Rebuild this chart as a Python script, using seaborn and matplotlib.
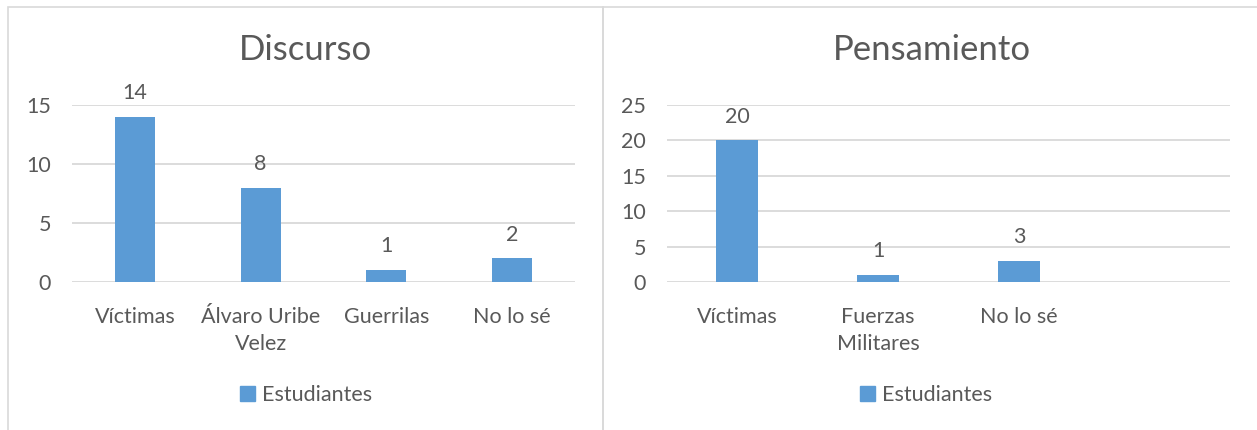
import matplotlib
matplotlib.use("Agg")
import matplotlib.pyplot as plt
from matplotlib.patches import Rectangle, Patch
import pandas as pd
import seaborn as sns

# data
discurso_cats = ["Víctimas", "Álvaro Uribe\nVelez", "Guerrilas", "No lo sé"]
discurso_vals = [14, 8, 1, 2]
pensamiento_cats = ["Víctimas", "Fuerzas\nMilitares", "No lo sé"]
pensamiento_vals = [20, 1, 3]
series_name = "Estudiantes"

bar_color = "#5B9BD5"
text_color = "#595959"
grid_color = "#D9D9D9"

sns.set_theme(style="white")
plt.rcParams["font.family"] = ["Lato", "DejaVu Sans"]

W, H = 1257, 430
fig = plt.figure(figsize=(W / 100, H / 100), dpi=100)

# chart borders
for x0, x1 in [(8, 603), (603, 1262)]:
    fig.patches.append(Rectangle((x0 / W, -0.05), (x1 - x0) / W, (H - 7) / H + 0.05,
                                 transform=fig.transFigure, fill=False,
                                 edgecolor=grid_color, linewidth=1.2))


def draw(ax, cats, vals, title, title_x, ymax, step, ncat, width, leg_x):
    df = pd.DataFrame({"cat": cats, "val": vals})
    sns.barplot(data=df, x="cat", y="val", ax=ax, color=bar_color,
                width=width, saturation=1, linewidth=0)
    ax.set_xlim(-0.5, ncat - 0.5)
    ax.set_ylim(0, ymax)
    ax.set_yticks(range(0, ymax + 1, step))
    ax.yaxis.grid(True, color=grid_color, linewidth=1.3)
    ax.set_axisbelow(True)
    for s in ax.spines.values():
        s.set_visible(False)
    ax.set_xlabel("")
    ax.set_ylabel("")
    ax.tick_params(axis="both", length=0, labelsize=15.5, colors=text_color)
    ax.tick_params(axis="y", pad=15)
    ax.tick_params(axis="x", pad=18)
    for lab in ax.get_xticklabels():
        lab.set_linespacing(1.45)
    ax.bar_label(ax.containers[0], padding=10, fontsize=15.5, color=text_color)
    fig.text(title_x / W, (H - 50) / H, title, fontsize=25, color=text_color,
             ha="center", va="center")
    ax.legend(handles=[Patch(color=bar_color, label=series_name)], loc="center",
              bbox_to_anchor=(leg_x, -0.64), frameon=False, fontsize=15.5,
              handlelength=0.7, handleheight=0.7, handletextpad=0.3,
              labelcolor=text_color)


ax1 = fig.add_axes([72 / W, (H - 282) / H, 503 / W, 177 / H])
draw(ax1, discurso_cats, discurso_vals, "Discurso", 306, 15, 5, 4, 0.32, 0.465)

ax2 = fig.add_axes([667 / W, (H - 282) / H, 563 / W, 177 / H])
draw(ax2, pensamiento_cats, pensamiento_vals, "Pensamiento", 932, 25, 5, 4, 0.3, 0.46)

fig.savefig("out.png", dpi=100, facecolor="white")
